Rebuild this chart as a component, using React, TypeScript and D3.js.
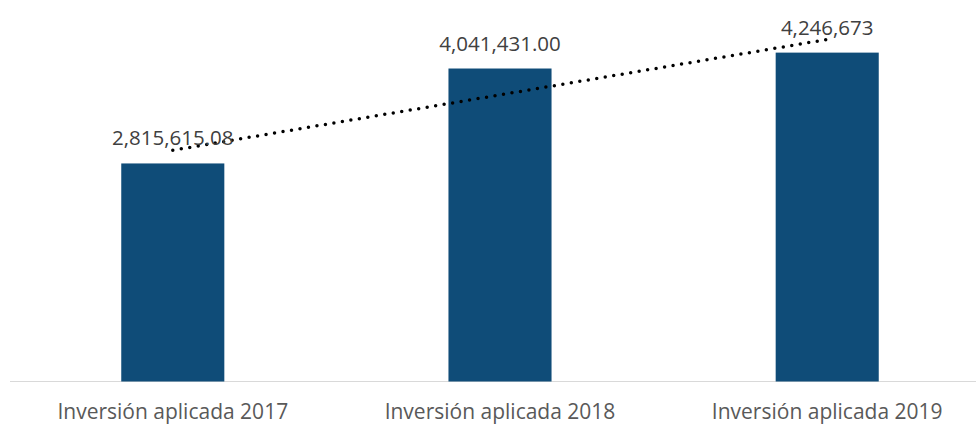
import React, { useEffect, useRef } from 'react';
import * as d3 from 'd3';

const categories = ['Inversión aplicada 2017', 'Inversión aplicada 2018', 'Inversión aplicada 2019'];
const values = [2815615.08, 4041431.0, 4246673];
const valueLabels = ['2,815,615.08', '4,041,431.00', '4,246,673'];

const width = 977;
const height = 424;

export default function App() {
  const ref = useRef<SVGSVGElement>(null);

  useEffect(() => {
    const svg = d3.select(ref.current);
    svg.selectAll('*').remove();

    const baseY = 381.5;
    const x = d3.scaleBand().domain(categories).range([10, 990]).paddingInner(0.685).paddingOuter(0.34);
    const y = d3.scaleLinear().domain([0, 4500000]).range([baseY, 33]);

    // trend line (linear regression over the three values)
    const xs = values.map((_, i) => i + 1);
    const mx = d3.mean(xs) as number;
    const my = d3.mean(values) as number;
    const slope = d3.sum(xs, (xi, i) => (xi - mx) * (values[i] - my)) / d3.sum(xs, xi => (xi - mx) ** 2);
    const trend = xs.map(xi => my + slope * (xi - mx));

    svg
      .append('line')
      .attr('x1', 10)
      .attr('x2', 976)
      .attr('y1', baseY)
      .attr('y2', baseY)
      .attr('stroke', '#d9d9d9')
      .attr('stroke-width', 1);

    svg
      .selectAll('rect.bar')
      .data(values)
      .join('rect')
      .attr('class', 'bar')
      .attr('fill', '#0f4c78')
      .attr('x', (_, i) => x(categories[i]) as number)
      .attr('width', x.bandwidth())
      .attr('y', d => y(d))
      .attr('height', d => baseY - y(d));

    const line = d3
      .line<number>()
      .x((_, i) => (x(categories[i]) as number) + x.bandwidth() / 2)
      .y(d => y(d));

    svg
      .append('path')
      .attr('d', line(trend) as string)
      .attr('fill', 'none')
      .attr('stroke', '#000')
      .attr('stroke-width', 3.5)
      .attr('stroke-linecap', 'round')
      .attr('stroke-dasharray', '0 8.6');

    svg
      .selectAll('text.val')
      .data(values)
      .join('text')
      .attr('class', 'val')
      .attr('x', (_, i) => (x(categories[i]) as number) + x.bandwidth() / 2)
      .attr('y', d => y(d) - 18)
      .attr('text-anchor', 'middle')
      .attr('fill', '#404040')
      .attr('font-size', 20.5)
      .text((_, i) => valueLabels[i]);

    svg
      .selectAll('text.cat')
      .data(categories)
      .join('text')
      .attr('class', 'cat')
      .attr('x', d => (x(d) as number) + x.bandwidth() / 2)
      .attr('y', 419)
      .attr('text-anchor', 'middle')
      .attr('fill', '#595959')
      .attr('font-size', 21)
      .text(d => d);
  }, []);

  return (
    <svg
      ref={ref}
      width={width}
      height={height}
      style={{ position: 'absolute', left: 0, top: 0, fontFamily: 'Open Sans, sans-serif' }}
    />
  );
}
